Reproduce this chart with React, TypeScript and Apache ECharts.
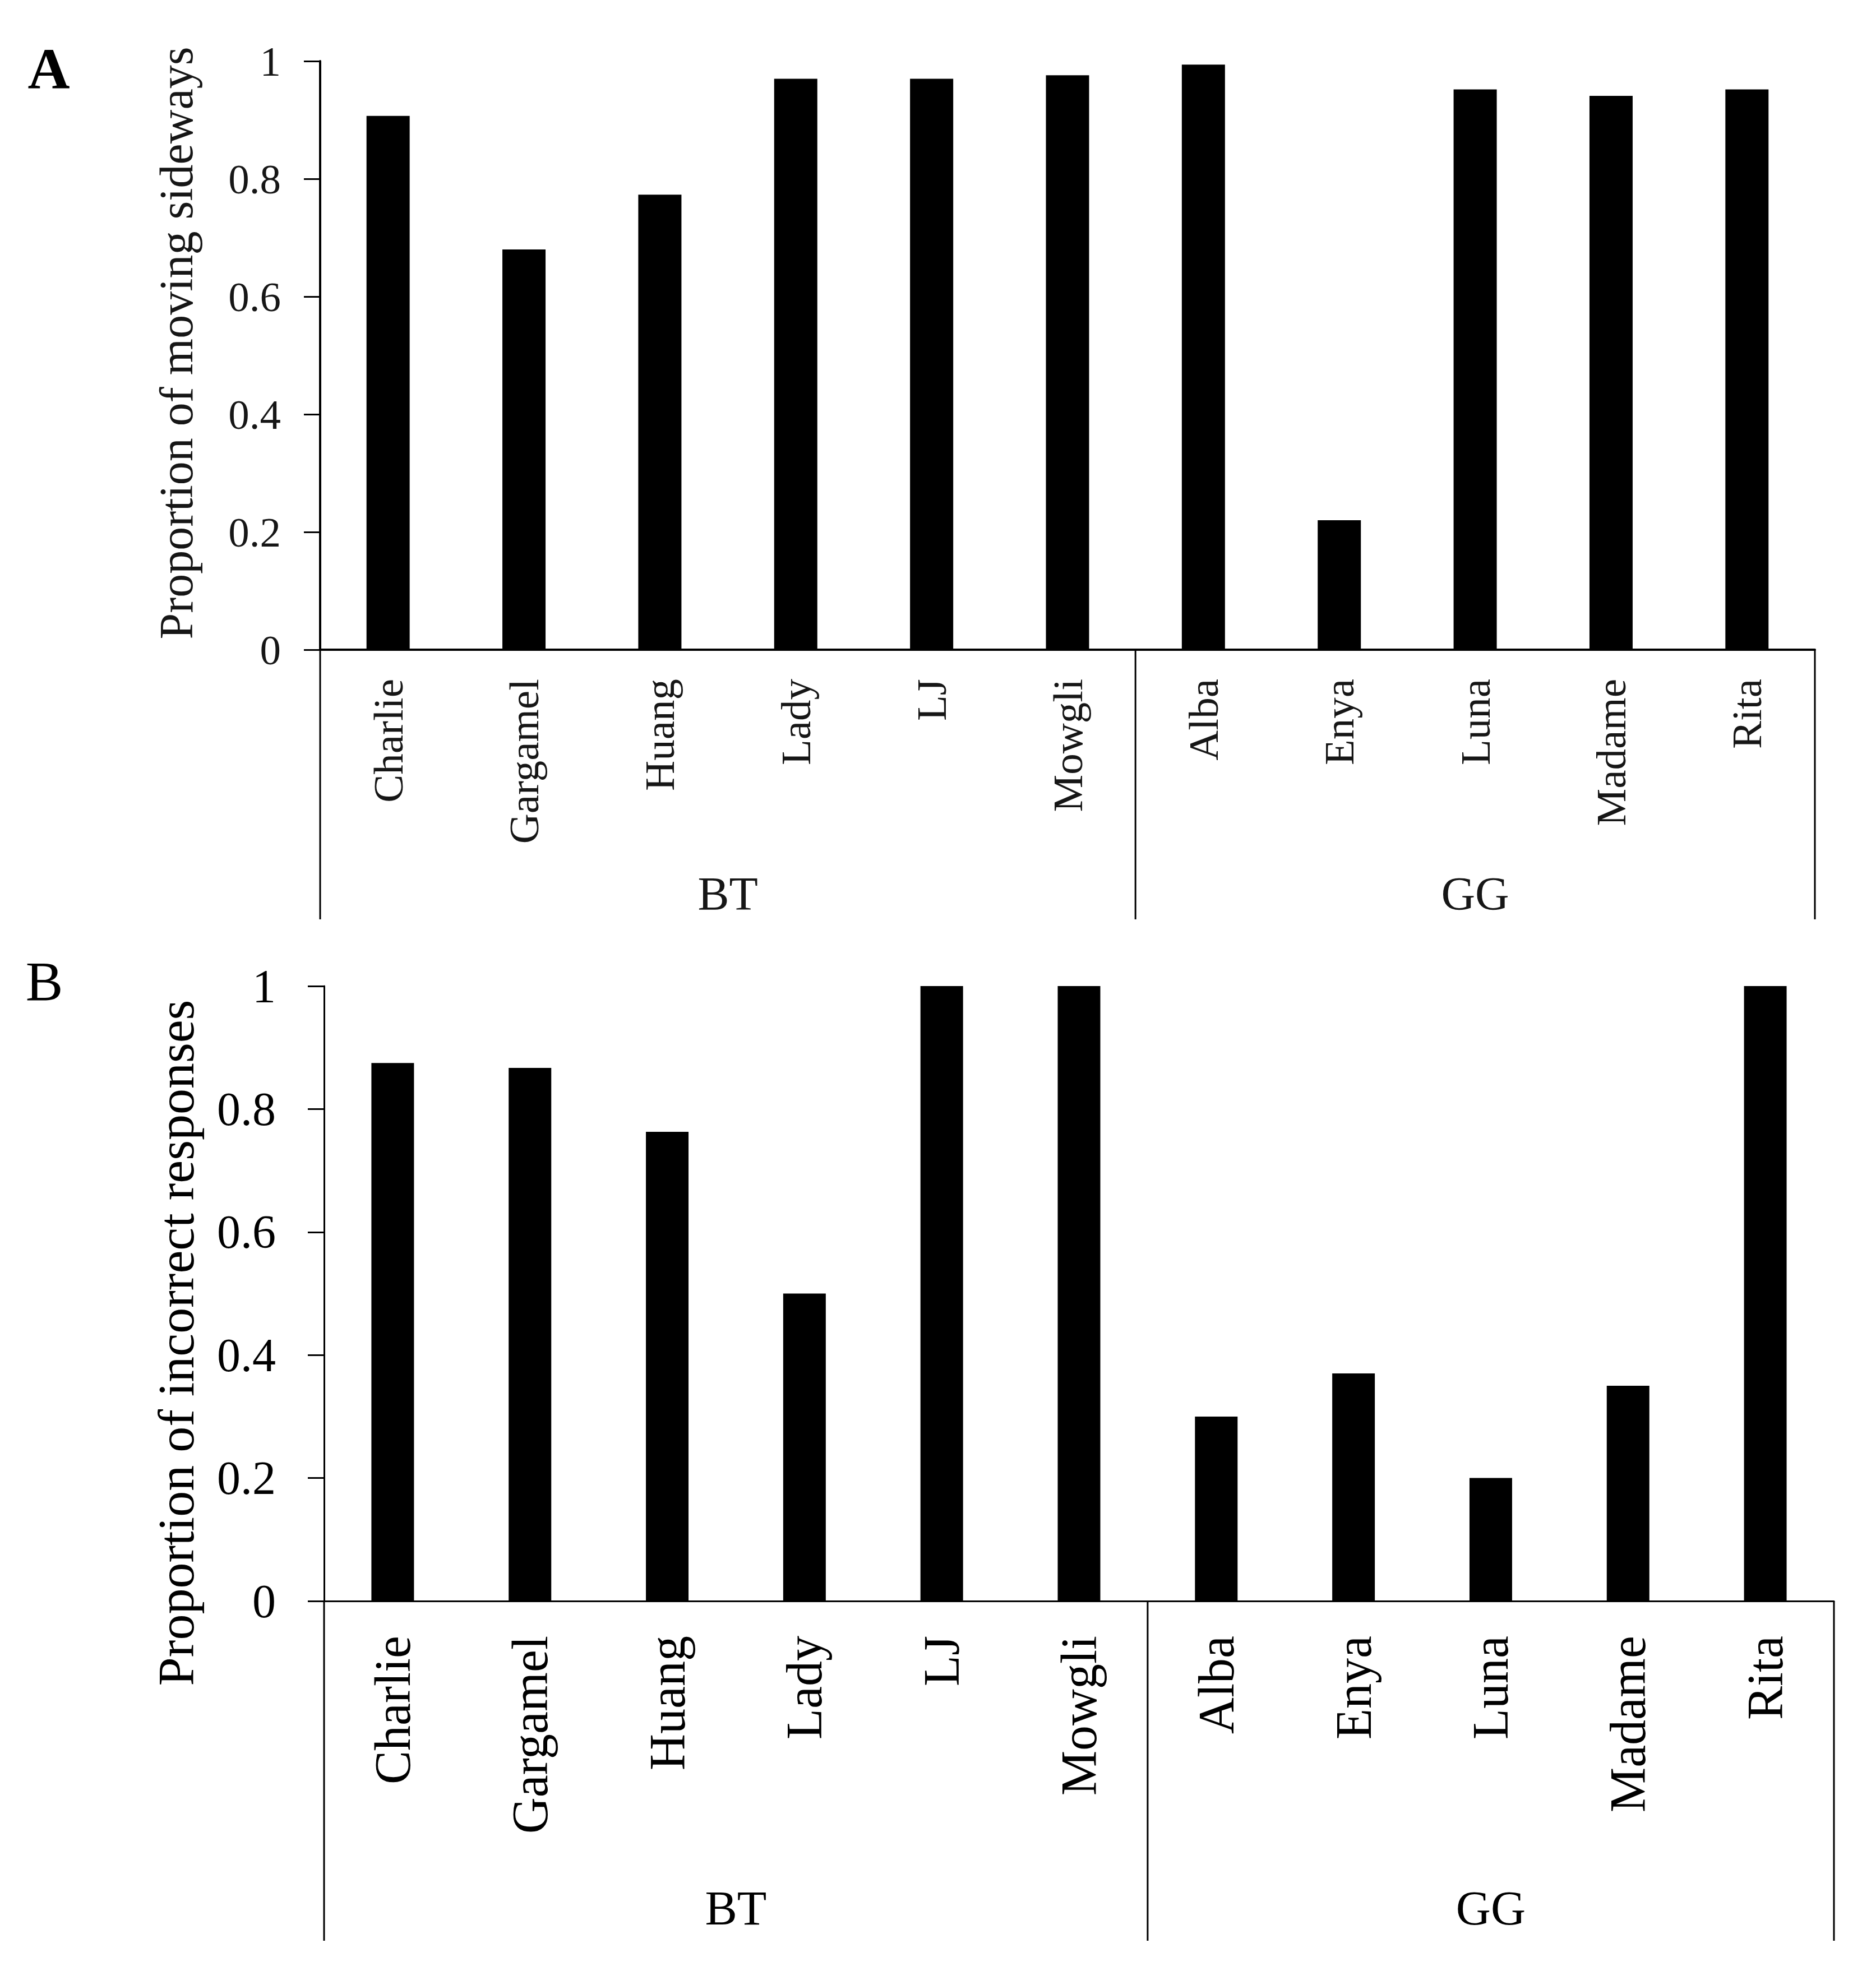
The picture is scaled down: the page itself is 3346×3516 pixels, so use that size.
import React, { useEffect, useRef } from "react";
import * as echarts from "echarts";

// ---- data ----
const categories = ["Charlie", "Gargamel", "Huang", "Lady", "LJ", "Mowgli", "Alba", "Enya", "Luna", "Madame", "Rita"];
const groupNames = ["BT", "GG"];
const groupSizes = [6, 5];
const sidewaysValues = [0.907, 0.68, 0.773, 0.97, 0.97, 0.976, 0.994, 0.22, 0.952, 0.941, 0.952];
const incorrectValues = [0.875, 0.867, 0.763, 0.5, 1, 1, 0.3, 0.37, 0.2, 0.35, 1];
const yMin = 0;
const yMax = 1;
const yInterval = 0.2;
const panelLetters = ["A", "B"];
const yTitles = ["Proportion of moving sideways", "Proportion of incorrect responses"];
const panelValues = [sidewaysValues, incorrectValues];

const SERIF = "'Liberation Serif', 'Times New Roman', Times, serif";

// ---- layout / style per panel ----
const panels = [
  {
    grid: { left: 571, top: 109, width: 2666, height: 1050 },
    labelFont: 75,
    tickFont: 75,
    titleFont: 84,
    groupFont: 84,
    axisW: 4,
    divW: 3,
    labelMargin: 52,
    yMargin: 70,
    titleOffsetX: 257,
    titleShiftY: -22,
    textColor: "#161616",
    barWidth: 77,
    divDepth: 481,
    groupDepth: 435,
    letter: { x: 87, y: 122, size: 104, weight: "bold" },
  },
  {
    grid: { left: 578, top: 1759, width: 2693, height: 1097 },
    labelFont: 90,
    tickFont: 84,
    titleFont: 92,
    groupFont: 86,
    axisW: 3,
    divW: 3,
    labelMargin: 62,
    yMargin: 86,
    titleOffsetX: 264,
    titleShiftY: 88,
    textColor: "#000000",
    barWidth: 76,
    divDepth: 606,
    groupDepth: 548,
    letter: { x: 79, y: 1750, size: 100, weight: "normal" },
  },
];

export default function App() {
  const ref = useRef<HTMLDivElement>(null);

  useEffect(() => {
    document.body.style.margin = "0";
    const chart = echarts.init(ref.current as HTMLDivElement, null, { renderer: "svg" });

    const option: any = {
      animation: false,
      backgroundColor: "#ffffff",
      grid: panels.map((p) => ({ ...p.grid, containLabel: false, outerBoundsMode: "none" })),
      xAxis: panels.map((p, i) => ({
        type: "category",
        gridIndex: i,
        data: categories,
        boundaryGap: true,
        axisLine: { show: true, lineStyle: { color: "#000", width: p.axisW } },
        axisTick: { show: false },
        axisLabel: {
          interval: 0,
          rotate: 90,
          margin: p.labelMargin,
          fontSize: p.labelFont,
          fontFamily: SERIF,
          color: p.textColor,
        },
        splitLine: { show: false },
      })),
      yAxis: panels.map((p, i) => ({
        type: "value",
        gridIndex: i,
        min: yMin,
        max: yMax,
        interval: yInterval,
        axisLine: { show: true, lineStyle: { color: "#000", width: p.axisW } },
        axisTick: { show: true, inside: false, length: 29, lineStyle: { color: "#000", width: 3 } },
        axisLabel: {
          margin: p.yMargin,
          fontSize: p.tickFont,
          fontFamily: SERIF,
          color: p.textColor,
        },
        splitLine: { show: false },
      })),
      series: panels.map((p, i) => ({
        type: "bar",
        xAxisIndex: i,
        yAxisIndex: i,
        data: panelValues[i],
        barWidth: p.barWidth,
        itemStyle: { color: "#000" },
        silent: true,
      })),
    };
    chart.setOption(option);

    const graphics: any[] = [];
    panels.forEach((p, i) => {
      const c0 = chart.convertToPixel({ xAxisIndex: i } as any, categories[0]) as unknown as number;
      const c1 = chart.convertToPixel({ xAxisIndex: i } as any, categories[1]) as unknown as number;
      const bw = c1 - c0;
      const left = c0 - bw / 2;
      const y0 = chart.convertToPixel({ yAxisIndex: i } as any, yMin) as unknown as number;
      const y1 = chart.convertToPixel({ yAxisIndex: i } as any, yMax) as unknown as number;
      let start = 0;
      const bounds = [0];
      groupSizes.forEach((s) => {
        start += s;
        bounds.push(start);
      });
      bounds.forEach((b) => {
        const x = left + b * bw;
        graphics.push({
          type: "line",
          silent: true,
          shape: { x1: x, y1: y0, x2: x, y2: y0 + p.divDepth },
          style: { stroke: "#000", lineWidth: p.divW },
        });
      });
      groupNames.forEach((g, k) => {
        const xm = left + ((bounds[k] + bounds[k + 1]) / 2) * bw;
        graphics.push({
          type: "text",
          silent: true,
          x: xm,
          y: y0 + p.groupDepth,
          style: {
            text: g,
            fontSize: p.groupFont,
            fontFamily: SERIF,
            fill: p.textColor,
            align: "center",
            verticalAlign: "middle",
          },
        });
      });
      // y-axis title
      graphics.push({
        type: "text",
        silent: true,
        x: left - p.titleOffsetX,
        y: (y0 + y1) / 2 + p.titleShiftY,
        rotation: Math.PI / 2,
        style: {
          text: yTitles[i],
          fontSize: p.titleFont,
          fontFamily: SERIF,
          fill: p.textColor,
          align: "center",
          verticalAlign: "middle",
        },
      });
      // panel letter
      graphics.push({
        type: "text",
        silent: true,
        x: p.letter.x,
        y: p.letter.y,
        style: {
          text: panelLetters[i],
          fontSize: p.letter.size,
          fontWeight: p.letter.weight,
          fontFamily: SERIF,
          fill: "#000",
          align: "center",
          verticalAlign: "middle",
        },
      });
    });
    chart.setOption({ graphic: graphics });

    return () => {
      chart.dispose();
    };
  }, []);

  return <div ref={ref} style={{ width: 3346, height: 3516, background: "#fff" }} />;
}
